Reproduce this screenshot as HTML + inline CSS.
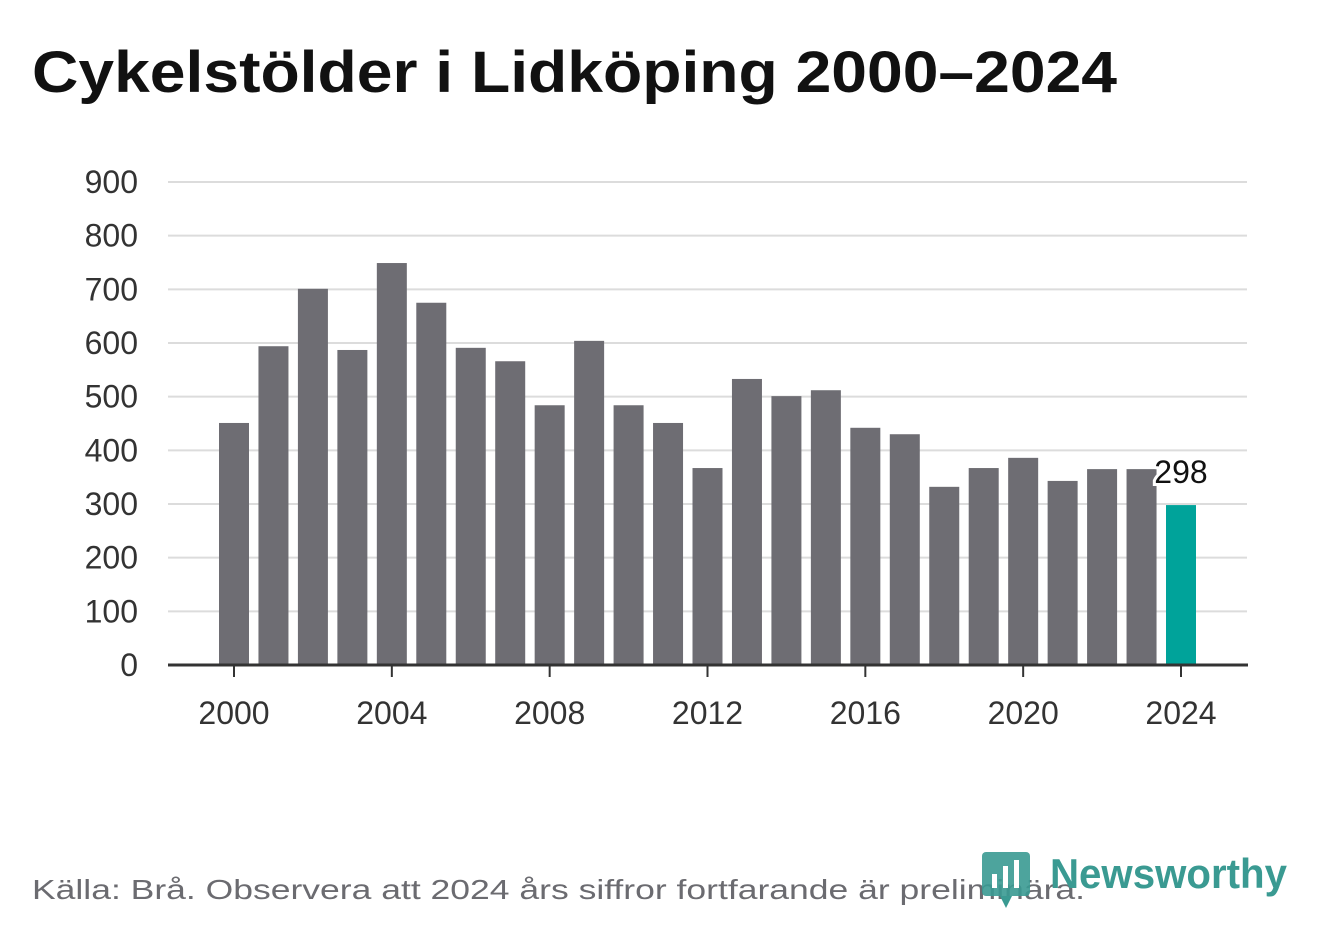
<!DOCTYPE html>
<html><head><meta charset="utf-8"><style>
body{margin:0;background:#fff;width:1322px;height:939px;overflow:hidden;font-family:"Liberation Sans",sans-serif}
</style></head><body>
<svg id="chart" width="1322" height="939" viewBox="0 0 1322 939">
<text x="32" y="92" font-size="58" font-weight="bold" fill="#111" textLength="1085" lengthAdjust="spacingAndGlyphs">Cykelstölder i Lidköping 2000–2024</text>
<g id="grid"></g><g id="bars"></g><g id="xaxis"></g>
<text x="32" y="899" font-size="28" fill="#6b6b70" textLength="1053" lengthAdjust="spacingAndGlyphs">Källa: Brå. Observera att 2024 års siffror fortfarande är preliminära.</text>
<g>
<rect x="982" y="852" width="48" height="44" rx="4" fill="#3a9a92" opacity="0.9"/>
<polygon points="1000,896 1012,896 1006,908" fill="#3a9a92"/>
<rect x="992" y="874" width="5" height="14" fill="#fff"/><rect x="1003" y="866" width="5" height="22" fill="#fff"/><rect x="1014" y="860" width="5" height="28" fill="#fff"/>
<text x="1050" y="888" font-size="42" font-weight="bold" fill="#3a9a92" textLength="237" lengthAdjust="spacingAndGlyphs">Newsworthy</text>
</g>
</svg>
<script>
const years=[2000,2001,2002,2003,2004,2005,2006,2007,2008,2009,2010,2011,2012,2013,2014,2015,2016,2017,2018,2019,2020,2021,2022,2023,2024];
const values=[451,594,701,587,749,675,591,566,484,604,484,451,367,533,501,512,442,430,332,367,386,343,365,365,298];
const yTicks=[0,100,200,300,400,500,600,700,800,900];
const xTicks=[2000,2004,2008,2012,2016,2020,2024];
const NS='http://www.w3.org/2000/svg';
const y0=665,y900=182,x0=234,x1=1181;
const yS=v=>y0-(v/900)*(y0-y900);
const xS=yr=>x0+(yr-2000)*(x1-x0)/24;
function mk(t,a,p){const e=document.createElementNS(NS,t);for(const k in a)e.setAttribute(k,a[k]);p.appendChild(e);return e;}
const grid=document.getElementById('grid'),bars=document.getElementById('bars'),xa=document.getElementById('xaxis');
yTicks.forEach(v=>{
 if(v>0){const l=mk('line',{x1:168,x2:1247,y1:yS(v),y2:yS(v),stroke:'#dcdcdc','stroke-width':2},grid);
 }
 const t=mk('text',{x:138,y:yS(v)+11,'font-size':32,fill:'#333','text-anchor':'end'},grid);t.textContent=v;
 
});
years.forEach((yr,i)=>{
 const r=mk('rect',{x:xS(yr)-15,y:yS(values[i]),width:30,height:y0-yS(values[i]),fill:yr===2024?'#00a39a':'#6e6d73'},bars);
 
});
const last=values.length-1;
const lb=mk('text',{x:xS(years[last]),y:yS(values[last])-22,'font-size':32,fill:'#111','text-anchor':'middle',stroke:'#fff','stroke-width':6,'paint-order':'stroke'},bars);
lb.textContent=values[last];
const ax=mk('line',{x1:168,x2:1248,y1:y0,y2:y0,stroke:'#333','stroke-width':3},xa);

xTicks.forEach(yr=>{
 const tk=mk('line',{x1:xS(yr),x2:xS(yr),y1:y0,y2:y0+12,stroke:'#333','stroke-width':2},xa);
 
 const t=mk('text',{x:xS(yr),y:724,'font-size':32,fill:'#333','text-anchor':'middle'},xa);t.textContent=yr;
 
});
</script>
</body></html>
